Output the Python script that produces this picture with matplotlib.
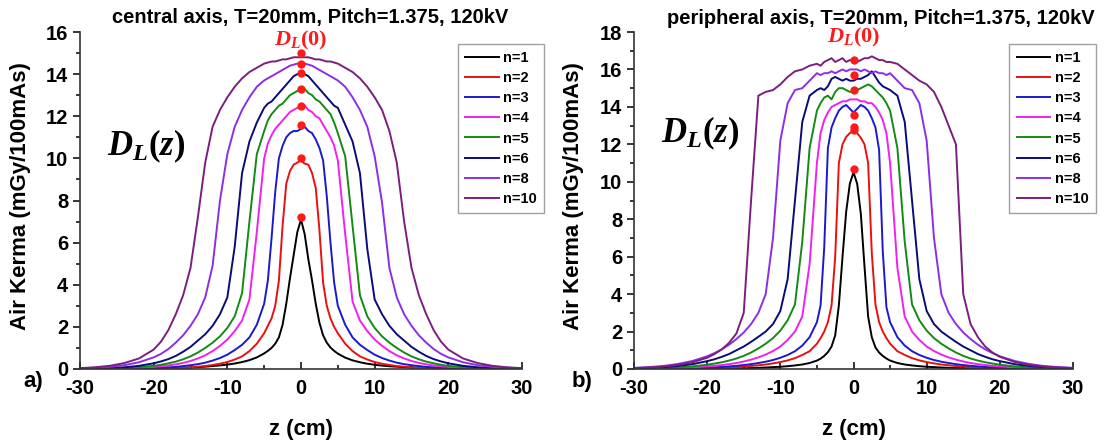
import matplotlib
matplotlib.use("Agg")
import matplotlib.pyplot as plt
from matplotlib.ticker import MultipleLocator

# --- datos ---
z = [-30, -28, -26, -24, -22, -20,
     -19, -18, -17, -16, -15, -14, -13, -12, -11, -10, -9, -8, -7, -6, -5,
     -4.5, -4, -3.5, -3, -2.5, -2, -1.5, -1, -0.5, 0, 0.5, 1, 1.5, 2, 2.5, 3, 3.5, 4, 4.5,
     5, 6, 7, 8, 9, 10, 11, 12, 13, 14, 15, 16, 17, 18, 19,
     20, 22, 24, 26, 28, 30]

etiquetas = ['n=1', 'n=2', 'n=3', 'n=4', 'n=5', 'n=6', 'n=8', 'n=10']

# eje central (a)
central_n1 = [0.00, 0.01, 0.01, 0.01, 0.02, 0.03,
              0.03, 0.04, 0.05, 0.06, 0.07, 0.09, 0.11, 0.14, 0.17, 0.21, 0.26, 0.33, 0.42, 0.55, 0.74,
              0.86, 1.00, 1.20, 1.50, 2.10, 3.10, 4.30, 5.40, 6.50, 7.10, 6.40, 5.20, 4.20, 3.10, 2.20, 1.60, 1.25, 1.02, 0.86,
              0.73, 0.54, 0.41, 0.32, 0.25, 0.20, 0.16, 0.13, 0.11, 0.09, 0.07, 0.06, 0.05, 0.04, 0.03,
              0.03, 0.02, 0.01, 0.01, 0.01, 0.00]
central_n2 = [0.00, 0.01, 0.01, 0.02, 0.02, 0.03,
              0.03, 0.04, 0.05, 0.06, 0.08, 0.11, 0.14, 0.19, 0.25, 0.33, 0.45, 0.60, 0.85, 1.20, 1.70,
              2.05, 2.40, 3.00, 4.20, 6.80, 8.80, 9.40, 9.70, 9.80, 9.90, 9.75, 9.70, 9.30, 8.60, 6.60, 4.10, 3.00, 2.40, 2.00,
              1.70, 1.20, 0.85, 0.60, 0.45, 0.33, 0.25, 0.19, 0.14, 0.11, 0.08, 0.06, 0.05, 0.04, 0.03,
              0.03, 0.02, 0.02, 0.01, 0.01, 0.00]
central_n3 = [0.00, 0.01, 0.01, 0.02, 0.03, 0.05,
              0.06, 0.08, 0.10, 0.14, 0.18, 0.23, 0.30, 0.40, 0.52, 0.68, 0.90, 1.15, 1.50, 2.10, 3.10,
              4.20, 6.20, 8.40, 10.0, 10.6, 11.0, 11.2, 11.3, 11.3, 11.4, 11.5, 11.3, 11.2, 10.9, 10.5, 9.90, 8.20, 6.00, 4.10,
              3.00, 2.10, 1.50, 1.15, 0.90, 0.68, 0.52, 0.40, 0.30, 0.23, 0.18, 0.14, 0.10, 0.08, 0.06,
              0.05, 0.03, 0.02, 0.01, 0.01, 0.00]
central_n4 = [0.01, 0.02, 0.02, 0.04, 0.06, 0.10,
              0.13, 0.17, 0.22, 0.29, 0.38, 0.50, 0.65, 0.85, 1.10, 1.40, 1.80, 2.30, 3.30, 6.50, 10.0,
              10.7, 11.1, 11.4, 11.6, 11.8, 12.0, 12.2, 12.3, 12.4, 12.4, 12.5, 12.3, 12.2, 12.0, 11.9, 11.6, 11.3, 11.0, 10.6,
              9.90, 6.40, 3.20, 2.30, 1.80, 1.40, 1.10, 0.85, 0.65, 0.50, 0.38, 0.29, 0.22, 0.17, 0.13,
              0.10, 0.06, 0.04, 0.02, 0.02, 0.01]
central_n5 = [0.01, 0.02, 0.03, 0.05, 0.09, 0.15,
              0.20, 0.27, 0.35, 0.46, 0.60, 0.78, 1.00, 1.25, 1.55, 1.95, 2.50, 3.60, 7.00, 10.2, 11.3,
              11.8, 12.1, 12.3, 12.5, 12.6, 12.8, 13.0, 13.1, 13.2, 13.2, 13.3, 13.1, 13.0, 12.8, 12.7, 12.5, 12.3, 12.1, 11.7,
              11.2, 10.1, 6.80, 3.50, 2.50, 1.95, 1.55, 1.25, 1.00, 0.78, 0.60, 0.46, 0.35, 0.27, 0.20,
              0.15, 0.09, 0.05, 0.03, 0.02, 0.01]
central_n6 = [0.01, 0.02, 0.04, 0.08, 0.15, 0.27,
              0.36, 0.47, 0.62, 0.82, 1.05, 1.35, 1.65, 2.05, 2.60, 3.40, 5.80, 9.30, 10.8, 11.7, 12.4,
              12.6, 12.7, 12.9, 13.1, 13.3, 13.5, 13.7, 13.9, 14.0, 14.0, 14.0, 13.9, 13.7, 13.5, 13.3, 13.1, 12.9, 12.7, 12.5,
              12.4, 11.6, 10.8, 9.30, 5.70, 3.30, 2.60, 2.05, 1.65, 1.35, 1.05, 0.82, 0.62, 0.47, 0.36,
              0.27, 0.15, 0.08, 0.04, 0.02, 0.01]
central_n8 = [0.03, 0.06, 0.10, 0.18, 0.32, 0.55,
              0.72, 0.95, 1.25, 1.60, 2.05, 2.60, 3.40, 4.90, 8.00, 10.2, 11.5, 12.3, 12.9, 13.4, 13.7,
              13.8, 13.9, 14.0, 14.1, 14.2, 14.3, 14.4, 14.45, 14.5, 14.5, 14.5, 14.45, 14.4, 14.3, 14.2, 14.1, 14.0, 13.9, 13.8,
              13.7, 13.4, 12.9, 12.3, 11.5, 10.1, 7.90, 4.80, 3.40, 2.60, 2.05, 1.60, 1.25, 0.95, 0.72,
              0.55, 0.32, 0.18, 0.10, 0.06, 0.03]
central_n10 = [0.04, 0.08, 0.15, 0.28, 0.50, 0.92,
               1.30, 1.85, 2.60, 3.50, 4.80, 7.20, 9.80, 11.5, 12.3, 12.9, 13.4, 13.8, 14.1, 14.3, 14.5,
               14.55, 14.6, 14.6, 14.65, 14.7, 14.7, 14.75, 14.8, 14.8, 14.8, 14.8, 14.8, 14.75, 14.7, 14.7, 14.65, 14.6, 14.6, 14.55,
               14.5, 14.3, 14.1, 13.8, 13.4, 12.9, 12.3, 11.3, 9.80, 7.00, 4.80, 3.50, 2.60, 1.85, 1.30,
               0.92, 0.50, 0.28, 0.15, 0.08, 0.04]

# eje periferico (b)
perif_n1 = [0.00, 0.01, 0.01, 0.01, 0.01, 0.02,
            0.02, 0.025, 0.03, 0.035, 0.04, 0.05, 0.065, 0.08, 0.10, 0.12, 0.15, 0.19, 0.24, 0.32, 0.45,
            0.55, 0.70, 0.90, 1.20, 1.80, 3.40, 6.00, 8.40, 9.90, 10.5, 9.90, 8.30, 5.50, 2.80, 1.70, 1.15, 0.88, 0.70, 0.56,
            0.45, 0.32, 0.24, 0.19, 0.15, 0.12, 0.10, 0.08, 0.065, 0.05, 0.04, 0.035, 0.03, 0.025, 0.02,
            0.02, 0.01, 0.01, 0.01, 0.01, 0.00]
perif_n2 = [0.00, 0.01, 0.01, 0.02, 0.03, 0.05,
            0.06, 0.07, 0.08, 0.10, 0.13, 0.16, 0.20, 0.24, 0.30, 0.37, 0.46, 0.58, 0.75, 0.95, 1.35,
            1.65, 2.00, 2.50, 3.40, 6.00, 11.0, 12.0, 12.4, 12.6, 12.7, 12.6, 12.35, 12.0, 11.0, 6.20, 3.45, 2.50, 2.00, 1.65,
            1.35, 0.95, 0.75, 0.58, 0.46, 0.37, 0.30, 0.24, 0.20, 0.16, 0.13, 0.10, 0.08, 0.07, 0.06,
            0.05, 0.03, 0.02, 0.01, 0.01, 0.00]
perif_n3 = [0.01, 0.01, 0.02, 0.03, 0.05, 0.07,
            0.09, 0.11, 0.14, 0.17, 0.21, 0.26, 0.32, 0.39, 0.48, 0.60, 0.75, 0.95, 1.25, 1.70, 2.50,
            3.40, 6.50, 11.8, 12.9, 13.4, 13.8, 14.0, 14.1, 13.9, 13.7, 13.9, 14.1, 14.0, 13.8, 13.4, 12.9, 11.7, 6.30, 3.30,
            2.50, 1.70, 1.25, 0.95, 0.75, 0.60, 0.48, 0.39, 0.32, 0.26, 0.21, 0.17, 0.14, 0.11, 0.09,
            0.07, 0.05, 0.03, 0.02, 0.01, 0.01]
perif_n4 = [0.01, 0.02, 0.04, 0.06, 0.09, 0.14,
            0.17, 0.21, 0.26, 0.32, 0.40, 0.50, 0.62, 0.77, 0.96, 1.20, 1.55, 2.00, 2.80, 5.60, 11.0,
            12.6, 13.3, 13.7, 14.0, 14.1, 14.2, 14.3, 14.3, 14.4, 14.4, 14.4, 14.3, 14.3, 14.2, 14.2, 14.0, 13.7, 13.3, 12.6,
            11.0, 5.40, 2.80, 2.00, 1.55, 1.20, 0.96, 0.77, 0.62, 0.50, 0.40, 0.32, 0.26, 0.21, 0.17,
            0.14, 0.09, 0.06, 0.04, 0.02, 0.01]
perif_n5 = [0.02, 0.03, 0.05, 0.08, 0.14, 0.23,
            0.29, 0.36, 0.45, 0.56, 0.70, 0.88, 1.10, 1.35, 1.65, 2.05, 2.60, 3.45, 6.80, 11.8, 13.8,
            14.2, 14.5, 14.6, 14.4, 14.8, 15.0, 15.0, 14.9, 14.8, 14.8, 14.9, 15.0, 15.1, 15.2, 15.1, 14.9, 14.7, 14.5, 14.2,
            13.8, 11.8, 6.80, 3.45, 2.60, 2.05, 1.65, 1.35, 1.10, 0.88, 0.70, 0.56, 0.45, 0.36, 0.29,
            0.23, 0.14, 0.08, 0.05, 0.03, 0.02]
perif_n6 = [0.03, 0.06, 0.10, 0.16, 0.26, 0.42,
            0.52, 0.65, 0.80, 1.00, 1.20, 1.45, 1.72, 2.00, 2.40, 3.10, 4.80, 9.00, 13.2, 14.6, 14.9,
            15.0, 14.9, 15.1, 15.5, 15.6, 15.5, 15.4, 15.5, 15.4, 15.4, 15.5, 15.5, 15.6, 15.7, 15.9, 15.6, 15.3, 15.1, 15.0,
            14.9, 14.6, 13.2, 9.00, 4.80, 3.10, 2.40, 2.00, 1.72, 1.45, 1.20, 1.00, 0.80, 0.65, 0.52,
            0.42, 0.26, 0.16, 0.10, 0.06, 0.03]
perif_n8 = [0.06, 0.10, 0.16, 0.27, 0.43, 0.68,
            0.85, 1.05, 1.30, 1.60, 1.95, 2.40, 3.00, 4.00, 7.00, 12.2, 14.2, 14.9, 15.0, 15.4, 15.8,
            15.7, 15.8, 15.8, 15.9, 15.8, 15.9, 16.0, 15.9, 16.0, 16.0, 16.0, 15.9, 16.0, 15.9, 15.8, 15.9, 15.8, 15.8, 15.7,
            15.8, 15.4, 15.0, 14.9, 14.2, 12.2, 7.00, 4.00, 3.00, 2.40, 1.95, 1.60, 1.30, 1.05, 0.85,
            0.68, 0.43, 0.27, 0.16, 0.10, 0.06]
perif_n10 = [0.05, 0.08, 0.13, 0.22, 0.36, 0.60,
             0.80, 1.05, 1.40, 1.90, 3.00, 9.00, 14.6, 14.8, 14.9, 15.2, 15.6, 15.9, 16.0, 16.2, 16.3,
             16.2, 16.4, 16.5, 16.6, 16.4, 16.5, 16.6, 16.4, 16.5, 16.5, 16.4, 16.5, 16.6, 16.6, 16.7, 16.6, 16.5, 16.5, 16.4,
             16.4, 16.3, 16.0, 15.7, 15.4, 15.2, 14.8, 14.0, 13.0, 12.0, 4.00, 2.40, 1.70, 1.20, 0.88,
             0.65, 0.38, 0.22, 0.13, 0.08, 0.05]

# valores D_L(0) (puntos rojos en z=0)
z_dot = 0.0
central_dl0 = [7.2, 10.0, 11.6, 12.5, 13.3, 14.05, 14.5, 15.0]
perif_dl0 = [10.68, 12.77, 12.95, 13.57, 14.9, 15.7, 16.5]

colores = ['#000000', '#e81010', '#1a1acc', '#f020f0', '#138a13', '#0a0a7a', '#8c2ee6', '#7a1f7f']

# --- estilo ---
plt.rcParams['font.family'] = ['Liberation Sans', 'DejaVu Sans']
plt.rcParams['font.weight'] = 'bold'
plt.rcParams['axes.unicode_minus'] = False
plt.rcParams['mathtext.fontset'] = 'custom'
plt.rcParams['mathtext.it'] = 'Liberation Serif:italic:bold'
plt.rcParams['mathtext.rm'] = 'Liberation Serif:bold'
plt.rcParams['mathtext.bf'] = 'Liberation Serif:bold'

fig = plt.figure(figsize=(11.16, 4.46), dpi=100)
W, H = 1116.0, 446.0


def panel(rect, curvas, puntos, ymax, titulo, tx, letra, lx, ylx, dz_xy, dl0_y):
    ax = fig.add_axes(rect)
    for y, c, lab in zip(curvas, colores, etiquetas):
        ax.plot(z, y, color=c, lw=1.4, label=lab)
    ax.plot([z_dot] * len(puntos), puntos, 'o', color='#ff1a1a', ms=6, mec='none', zorder=5)

    ax.set_xlim(-30, 30)
    ax.set_ylim(0, ymax)
    ax.xaxis.set_major_locator(MultipleLocator(10))
    ax.xaxis.set_minor_locator(MultipleLocator(5))
    ax.yaxis.set_major_locator(MultipleLocator(2))
    ax.yaxis.set_minor_locator(MultipleLocator(1))
    ax.spines['top'].set_visible(False)
    ax.spines['right'].set_visible(False)
    for s in ('left', 'bottom'):
        ax.spines[s].set_linewidth(1.2)
        ax.spines[s].set_color('#333333')
    ax.tick_params(axis='x', which='both', direction='in', labelsize=14.5, width=1.1, pad=7)
    ax.tick_params(axis='x', which='major', length=5)
    ax.tick_params(axis='x', which='minor', length=3)
    ax.tick_params(axis='y', which='both', direction='out', labelsize=14.5, width=1.1)
    ax.tick_params(axis='y', which='major', length=5)
    ax.tick_params(axis='y', which='minor', length=3)

    leg = ax.legend(loc='upper left', bbox_to_anchor=(0.855, 0.965), borderaxespad=0,
                    fancybox=False, edgecolor='#888888', handlelength=2.3, handletextpad=0.3,
                    labelspacing=0.42, borderpad=0.5, prop={'size': 10.5, 'weight': 'bold'})
    leg.get_frame().set_linewidth(1.0)

    ax.text(dz_xy[0], dz_xy[1], r'$D_L(z)$', transform=ax.transAxes, fontsize=25,
            ha='center', va='center')
    ax.text(z_dot, dl0_y, r'$D_L(0)$', fontsize=16, color='#ff1a1a', ha='center', va='center')

    fig.text(tx, 1 - 18 / H, titulo, ha='center', va='center', fontsize=14.5, fontweight='bold')
    fig.text(lx, 1 - 382 / H, letra, ha='center', va='center', fontsize=16, fontweight='bold')
    fig.text(ylx, 1 - 196 / H, 'Air Kerma (mGy/100mAs)', rotation=90, ha='center', va='center',
             fontsize=16, fontweight='bold')
    cx = rect[0] + rect[2] / 2
    fig.text(cx, 1 - 430 / H, 'z (cm)', ha='center', va='center', fontsize=16, fontweight='bold')
    return ax


bottom = 1 - 369 / H
height = 337 / H
panel([80 / W, bottom, 442 / W, height],
      [central_n1, central_n2, central_n3, central_n4, central_n5, central_n6, central_n8, central_n10],
      central_dl0, 16, 'central axis, T=20mm, Pitch=1.375, 120kV', 310 / W, 'a)', 33 / W, 21 / W,
      (0.149, 0.662), 15.6)
panel([634 / W, bottom, 439 / W, height],
      [perif_n1, perif_n2, perif_n3, perif_n4, perif_n5, perif_n6, perif_n8, perif_n10],
      perif_dl0, 18, 'peripheral axis, T=20mm, Pitch=1.375, 120kV', 881 / W, 'b)', 582 / W, 573 / W,
      (0.15, 0.70), 17.7)

fig.savefig('out.png', dpi=100)
